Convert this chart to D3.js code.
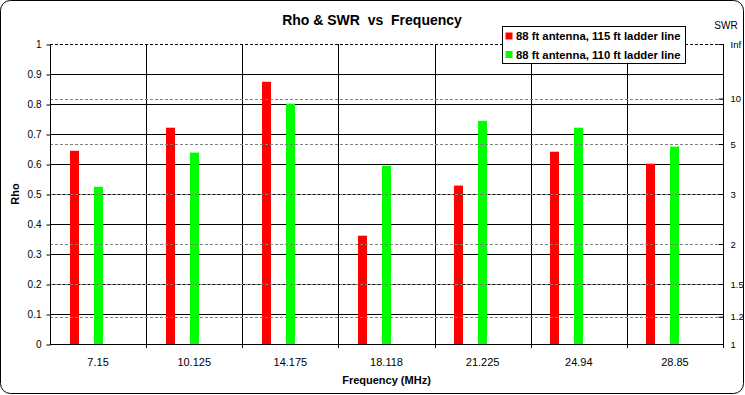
<!DOCTYPE html>
<html>
<head>
<meta charset="utf-8">
<script src="https://cdn.jsdelivr.net/npm/d3@7"></script>
<style>
  body { margin: 0; background: #fff; }
  svg text { font-family: Arial, "Liberation Sans", sans-serif; }
</style>
</head>
<body>
<div id="chart"></div>
<script>
// chart data
const frequencies = ['7.15', '10.125', '14.175', '18.118', '21.225', '24.94', '28.85'];
const seriesNames = ['88 ft antenna, 115 ft ladder line', '88 ft antenna, 110 ft ladder line'];
const seriesColors = ['#ff0000', '#00ff00'];
const rho115 = [0.644, 0.721, 0.874, 0.361, 0.528, 0.641, 0.601];
const rho110 = [0.524, 0.638, 0.801, 0.594, 0.744, 0.721, 0.658];
const rhoTicks = [0, 0.1, 0.2, 0.3, 0.4, 0.5, 0.6, 0.7, 0.8, 0.9, 1];
const swrTicks = [1, 1.2, 1.5, 2, 3, 5, 10, Infinity];
const swrLabels = ['1', '1.2', '1.5', '2', '3', '5', '10', 'Inf'];

const W = 745, H = 395;
const margin = {top: 44, right: 22, bottom: 51, left: 50};
const width = W - margin.left - margin.right;
const height = H - margin.top - margin.bottom;

const svg = d3.select('#chart').append('svg')
    .attr('width', W)
    .attr('height', H);

// outer frame
svg.append('rect')
    .attr('x', 0.5).attr('y', 0.5)
    .attr('width', W - 2).attr('height', H - 2)
    .attr('rx', 10).attr('ry', 10)
    .attr('fill', '#fff')
    .attr('stroke', '#000');

const g = svg.append('g')
    .attr('transform', `translate(${margin.left},${margin.top})`);

const x = d3.scaleBand().domain(frequencies).range([0, width]).padding(0);
const x1 = d3.scalePoint().domain(seriesNames).range([-24, 0]);
const y = d3.scaleLinear().domain([0, 1]).range([height, 0]);
const swrToRho = s => s === Infinity ? 1 : (s - 1) / (s + 1);

// solid horizontal grid
g.selectAll('.hgrid')
    .data(rhoTicks.filter(t => t > 0 && t < 1))
    .enter().append('line')
    .attr('x1', 0).attr('x2', width)
    .attr('y1', d => Math.round(y(d)) + 0.5)
    .attr('y2', d => Math.round(y(d)) + 0.5)
    .attr('stroke', '#000');

// category separators (with tick below axis)
const bounds = frequencies.slice(1).map(f => x(f)).concat([width]);
g.selectAll('.vgrid')
    .data(bounds)
    .enter().append('line')
    .attr('x1', d => Math.round(d) + 0.5).attr('x2', d => Math.round(d) + 0.5)
    .attr('y1', 0).attr('y2', height + 4)
    .attr('stroke', '#000');

// bars
const barW = 9;
seriesNames.forEach((name, i) => {
    const vals = i === 0 ? rho115 : rho110;
    g.selectAll('.bar' + i)
        .data(frequencies)
        .enter().append('rect')
        .attr('x', (d) => Math.round(x(d) + x.bandwidth() / 2 + x1(name) - barW / 2))
        .attr('y', (d, j) => y(vals[j]))
        .attr('width', barW)
        .attr('height', (d, j) => height - y(vals[j]))
        .attr('fill', seriesColors[i]);
});

// SWR dashed grid (drawn over bars)
g.selectAll('.swrgrid')
    .data(swrTicks.filter(s => s !== 1))
    .enter().append('line')
    .attr('x1', 0).attr('x2', width)
    .attr('y1', d => Math.round(y(swrToRho(d))) + 0.5)
    .attr('y2', d => Math.round(y(swrToRho(d))) + 0.5)
    .attr('stroke', d => d === Infinity ? '#000' : '#808080')
    .attr('stroke-dasharray', '3,2');

// left axis
const yAxis = d3.axisLeft(y)
    .tickValues(rhoTicks)
    .tickFormat(d => d3.format('~g')(d))
    .tickSize(4)
    .tickPadding(5);
const ya = g.append('g').attr('transform', 'translate(0.5,0)').call(yAxis);
ya.select('.domain').attr('d', `M0,0V${height}`);
ya.selectAll('.tick line').attr('transform', 'translate(0,0.5)');
ya.selectAll('text').attr('font-size', 10).attr('fill', '#000');

// right axis (SWR)
const swrAxis = d3.axisRight(y)
    .tickValues(swrTicks.map(swrToRho))
    .tickFormat((d, i) => swrLabels[i])
    .tickSize(-5)
    .tickPadding(7);
const ra = g.append('g').attr('transform', `translate(${width + 0.5},0)`).call(swrAxis);
ra.select('.domain').attr('d', `M0,0V${height}`);
ra.selectAll('text').attr('font-size', 9.5).attr('fill', '#000');

// bottom axis
const xAxis = d3.axisBottom(x).tickSize(0).tickPadding(14);
const xa = g.append('g').attr('transform', `translate(0,${height + 0.5})`).call(xAxis);
xa.select('.domain').attr('d', `M0,0H${width}`);
xa.selectAll('text').attr('font-size', 11).attr('fill', '#000');

// titles
svg.append('text')
    .attr('x', 372).attr('y', 25)
    .attr('text-anchor', 'middle')
    .attr('font-size', 14).attr('font-weight', 'bold')
    .style('white-space', 'pre')
    .text('Rho & SWR  vs  Frequency');

svg.append('text')
    .attr('x', margin.left + width / 2).attr('y', 384)
    .attr('text-anchor', 'middle')
    .attr('font-size', 11).attr('font-weight', 'bold')
    .text('Frequency (MHz)');

svg.append('text')
    .attr('transform', `translate(19,${margin.top + height / 2}) rotate(-90)`)
    .attr('text-anchor', 'middle')
    .attr('font-size', 11).attr('font-weight', 'bold')
    .text('Rho');

svg.append('text')
    .attr('x', 726).attr('y', 29)
    .attr('text-anchor', 'middle')
    .attr('font-size', 10)
    .text('SWR');

// legend
const legend = svg.append('g').attr('transform', 'translate(502.5,26.5)');
legend.append('rect')
    .attr('width', 183).attr('height', 37)
    .attr('fill', '#fff').attr('stroke', '#000');
seriesNames.forEach((name, i) => {
    legend.append('rect')
        .attr('x', 3).attr('y', 6 + i * 18.5)
        .attr('width', 7).attr('height', 7)
        .attr('fill', seriesColors[i]);
    legend.append('text')
        .attr('x', 13.5).attr('y', 13.5 + i * 18.5)
        .attr('font-size', 11.3).attr('font-weight', 'bold')
        .text(name);
});
</script>
</body>
</html>
